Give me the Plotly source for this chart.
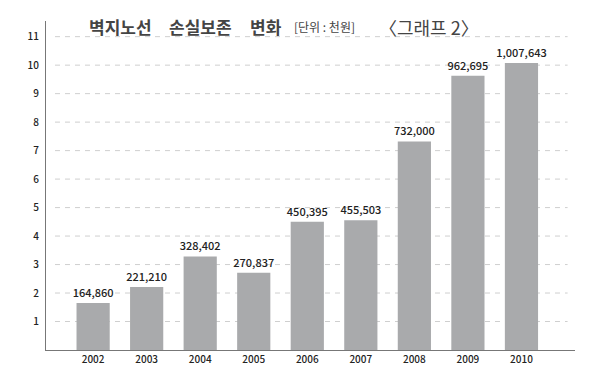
import plotly.graph_objects as go

years = ["2002", "2003", "2004", "2005", "2006", "2007", "2008", "2009", "2010"]
values = [164860, 221210, 328402, 270837, 450395, 455503, 732000, 962695, 1007643]
y_ticks = [1, 2, 3, 4, 5, 6, 7, 8, 9, 10, 11]

scale = 100000
pos = list(range(len(years)))
heights = [v / scale for v in values]
labels = [f"{v:,}" for v in values]

font = "Noto Sans CJK KR"

fig = go.Figure()
fig.add_trace(go.Bar(
    x=pos, y=heights, width=0.62,
    marker=dict(color="#a9aaac", line=dict(width=0)),
    text=labels, textposition="outside", cliponaxis=False,
    constraintext="none",
    textfont=dict(family=font, size=11, color="#222", weight=500),
    hoverinfo="skip",
))

fig.update_layout(
    width=600, height=380,
    margin=dict(l=46, r=25, t=21, b=30),
    plot_bgcolor="white", paper_bgcolor="white",
    showlegend=False,
    font=dict(family=font, color="#222"),
)
fig.update_xaxes(
    range=[-0.88, 9.0], tickvals=pos, ticktext=years, automargin=False,
    showgrid=False, showline=True, linecolor="#777", linewidth=1,
    ticks="", tickfont=dict(family=font, size=10, color="#222", weight=500),
    zeroline=False,
)
fig.update_yaxes(
    range=[0, 11.55], tickvals=y_ticks, ticktext=[str(t) for t in y_ticks],
    automargin=False, showgrid=False,
    showline=True, linecolor="#777", linewidth=1,
    ticks="", ticklabelstandoff=4,
    tickfont=dict(family=font, size=10, color="#222", weight=500),
    zeroline=False,
)

# dashed gridlines, starting a little right of the axis line
for t in y_ticks:
    fig.add_shape(
        type="line", xref="paper", yref="y", x0=0.017, x1=0.986, y0=t, y1=t,
        line=dict(color="#cfcfcf", width=1, dash="5px,5px"), layer="below",
    )

def px(x):
    return (x - 46) / 529.0

title_parts = [
    (87, "<b>벽지노선</b>", 17),
    (167, "<b>손실보존</b>", 17),
    (248, "<b>변화</b>", 17),
    (292, "[단위 : 천원]", 12),
    (377, "〈그래프 2〉", 18),
]
for x0, txt, sz in title_parts:
    fig.add_annotation(
        xref="paper", yref="paper", x=px(x0), y=(350 - 27) / 329.0,
        xanchor="left", yanchor="middle", showarrow=False, text=txt,
        font=dict(family=font, size=sz, color="#444"),
    )

fig.write_html(
    "out.html",
    config={"displayModeBar": False},
    post_script="document.body.style.margin='0';document.body.style.padding='0';",
)
